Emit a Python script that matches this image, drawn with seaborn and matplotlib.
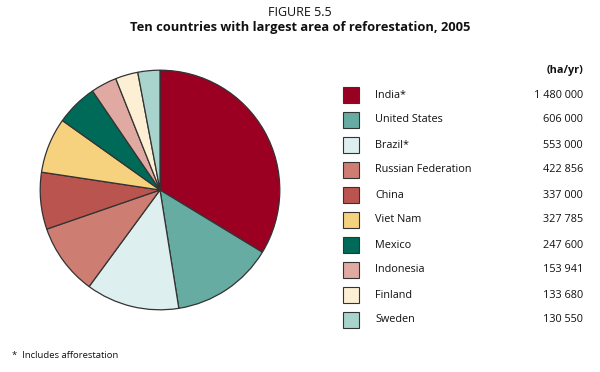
import seaborn as sns
import matplotlib.pyplot as plt
from matplotlib.patches import Rectangle

# DATA
countries = ["India*", "United States", "Brazil*", "Russian Federation", "China",
             "Viet Nam", "Mexico", "Indonesia", "Finland", "Sweden"]
area_ha = [1480000, 606000, 553000, 422856, 337000,
           327785, 247600, 153941, 133680, 130550]
value_labels = ["1 480 000", "606 000", "553 000", "422 856", "337 000",
                "327 785", "247 600", "153 941", "133 680", "130 550"]
colors = ["#9b0022", "#66aca2", "#ddefee", "#cd7d72", "#b9544f",
          "#f6d27f", "#006a58", "#e0aaa3", "#fcefd3", "#a9d3cd"]

sns.set_theme(style="white")
plt.rcParams["font.family"] = ["Open Sans", "DejaVu Sans"]
plt.rcParams["text.color"] = "#111111"

W, H = 600, 372
fig = plt.figure(figsize=(6, 3.72), dpi=100)
fig.patch.set_facecolor("white")

# PIE
ax = fig.add_axes([39 / W, 1 - 311 / H, 242 / W, 242 / H])
ax.pie(area_ha, colors=colors, startangle=90, counterclock=False,
       wedgeprops={"edgecolor": "#333333", "linewidth": 0.9})
ax.set_xlim(-1.01, 1.01)
ax.set_ylim(-1.01, 1.01)
ax.set_aspect("equal")
ax.axis("off")

# TITLES
fig.text(0.5, 1 - 12 / H, "FIGURE 5.5", ha="center", va="center", fontsize=9)
fig.text(0.5, 1 - 28 / H, "Ten countries with largest area of reforestation, 2005",
         ha="center", va="center", fontsize=9.3, fontweight="bold")

# LEGEND TABLE
fig.text(583 / W, 1 - 70 / H, "(ha/yr)", ha="right", va="center",
         fontsize=7.8, fontweight="bold")
for i, (name, val, col) in enumerate(zip(countries, value_labels, colors)):
    y = 95 + 25 * i
    fig.patches.append(Rectangle((343 / W, 1 - (y + 8) / H), 16 / W, 16 / H,
                                 transform=fig.transFigure, facecolor=col,
                                 edgecolor="#333333", linewidth=0.8))
    fig.text(375 / W, 1 - y / H, name, ha="left", va="center", fontsize=7.8)
    fig.text(583 / W, 1 - y / H, val, ha="right", va="center", fontsize=7.8)

# FOOTNOTE
fig.text(12 / W, 1 - 355 / H, "*  Includes afforestation", ha="left", va="center",
         fontsize=6.8)

plt.savefig("out.png", dpi=100, facecolor="white")
